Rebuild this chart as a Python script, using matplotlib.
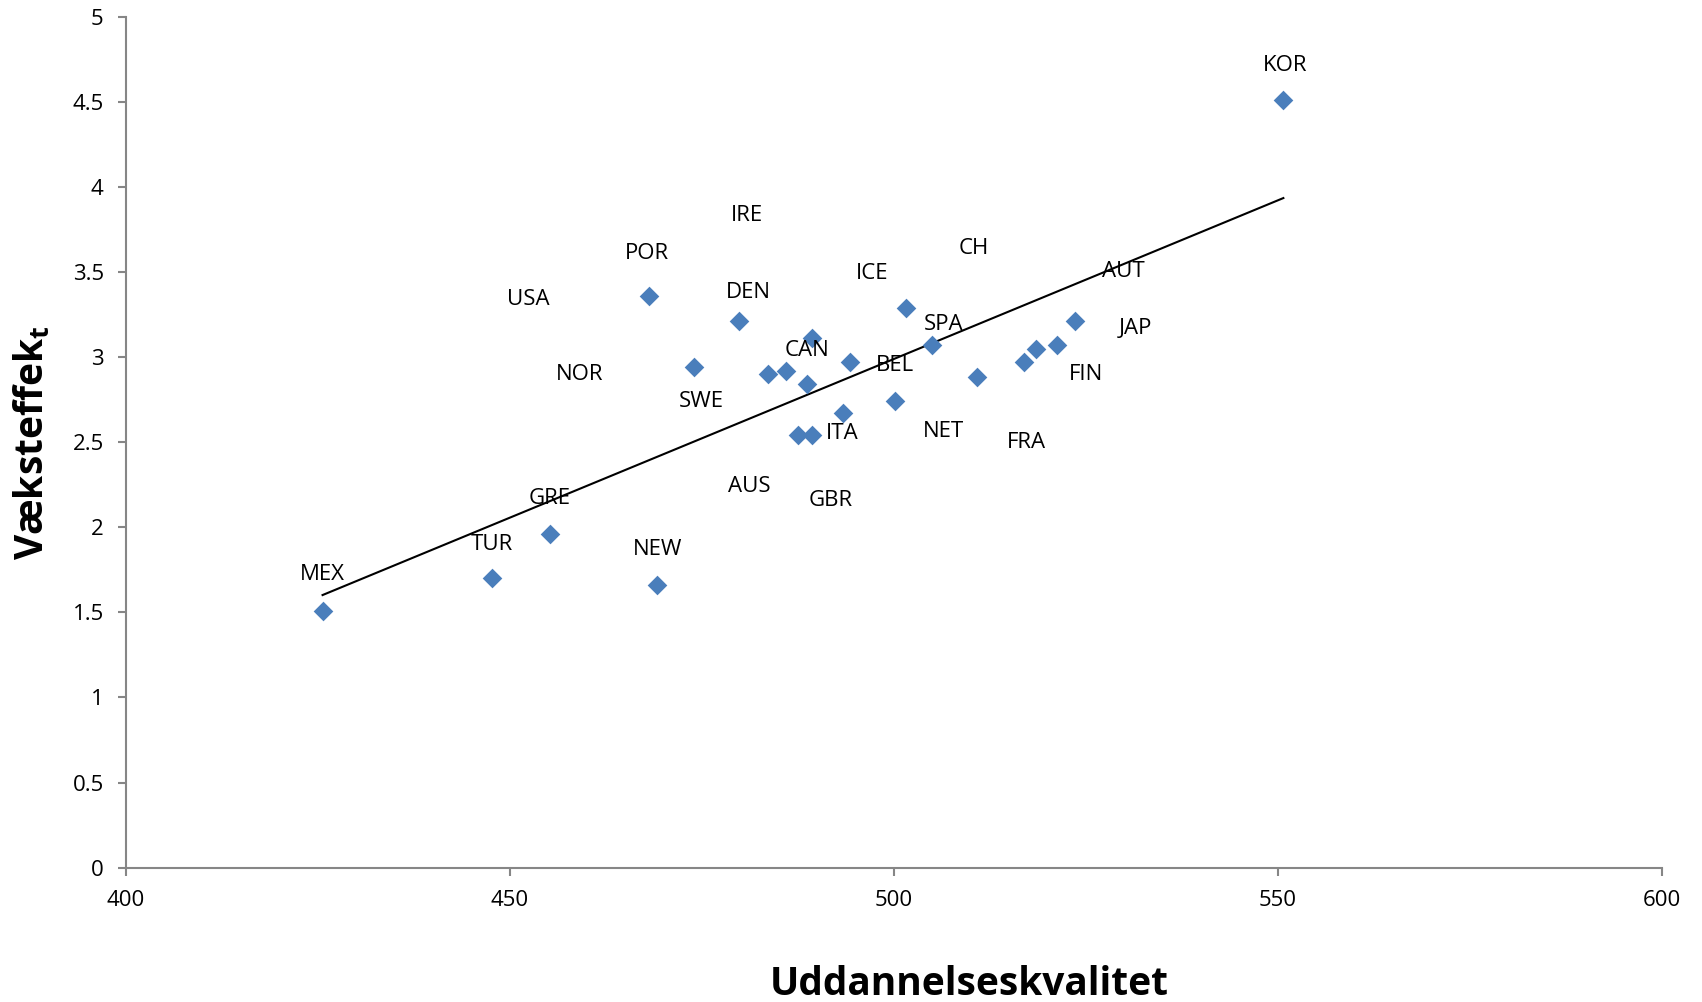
import numpy as np
import matplotlib
matplotlib.use('Agg')
import matplotlib.pyplot as plt
from matplotlib.ticker import MultipleLocator

plt.rcParams['font.family'] = ['Open Sans', 'DejaVu Sans']
plt.rcParams['mathtext.fontset'] = 'custom'
plt.rcParams['mathtext.rm'] = 'Open Sans'
plt.rcParams['mathtext.bf'] = 'Open Sans:bold'

# data
quality = [425.6, 447.6, 455.2, 469.2, 468.1, 473.9, 479.8, 483.6, 485.9, 488.7,
           489.3, 487.5, 489.3, 493.3, 494.3, 500.1, 501.6, 505.0, 510.8, 516.9,
           518.5, 521.2, 523.6, 550.7]
growth = [1.51, 1.70, 1.96, 1.66, 3.36, 2.94, 3.21, 2.90, 2.92, 2.84,
          3.11, 2.54, 2.54, 2.67, 2.97, 2.74, 3.29, 3.07, 2.88, 2.97,
          3.05, 3.07, 3.21, 4.51]

# labels and where they sit (excel put them in odd spots)
labels = ['KOR', 'MEX', 'TUR', 'GRE', 'NEW', 'POR', 'USA', 'NOR', 'SWE', 'IRE',
          'DEN', 'CAN', 'AUS', 'ITA', 'GBR', 'ICE', 'BEL', 'NET', 'SPA', 'CH',
          'FRA', 'FIN', 'AUT', 'JAP']
label_x = [550.9, 425.6, 447.6, 455.2, 469.2, 467.8, 452.4, 459.1, 474.9, 480.9,
           481.1, 488.7, 481.1, 493.3, 491.7, 497.2, 500.1, 506.4, 506.4, 510.4,
           517.2, 525.0, 529.9, 531.5]
label_y = [4.71, 1.72, 1.90, 2.17, 1.87, 3.61, 3.34, 2.90, 2.74, 3.83,
           3.38, 3.04, 2.24, 2.55, 2.16, 3.49, 2.95, 2.56, 3.19, 3.64,
           2.50, 2.90, 3.50, 3.17]

fig = plt.figure(figsize=(17.02, 10.02), dpi=100)
ax = fig.add_axes([0.074, 0.134, 0.9025, 0.8495])

ax.scatter(quality, growth, marker='D', s=10**2, color='#4A7EBB', zorder=3, linewidths=0)

# linear trend
x = np.array(quality)
a, b = np.polyfit(x, np.array(growth), 1)
xx = np.array([x.min(), x.max()])
ax.plot(xx, a*xx + b, color='black', lw=1.5, zorder=2)

for lab, lx, ly in zip(labels, label_x, label_y):
    ax.text(lx, ly, lab, ha='center', va='center', fontsize=16, color='black')

ax.set_xlim(400, 600)
ax.set_ylim(0, 5)
ax.xaxis.set_major_locator(MultipleLocator(50))
ax.yaxis.set_major_locator(MultipleLocator(0.5))
ax.set_yticklabels([('%g' % v) for v in ax.get_yticks()])

for s in ['top', 'right']:
    ax.spines[s].set_visible(False)
for s in ['left', 'bottom']:
    ax.spines[s].set_color('#868686')
    ax.spines[s].set_linewidth(1.5)
ax.tick_params(axis='both', direction='out', length=6, width=1.5, color='#868686',
               labelsize=16, pad=10)

ax.set_xlabel('Uddannelseskvalitet', fontsize=28, fontweight='bold')
ax.xaxis.set_label_coords(0.549, -0.137)
ax.xaxis.label.set_va('center')
ax.set_ylabel(r'Væksteffek$_{\mathbf{t}}$', fontsize=28, fontweight='bold')
ax.yaxis.set_label_coords(-0.0605, 0.499)
ax.yaxis.label.set_va('center')

fig.savefig('out.png', dpi=100)
